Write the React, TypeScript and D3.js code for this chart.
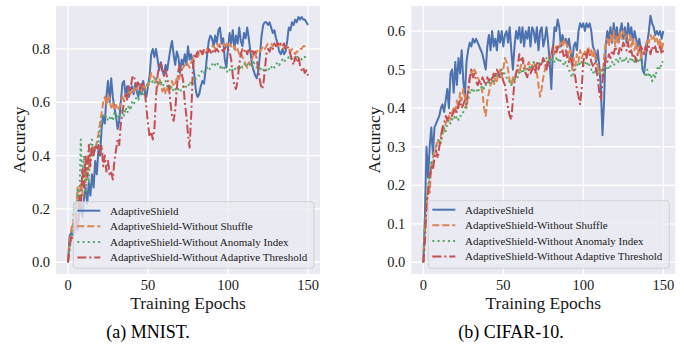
import React from "react";
import * as d3 from "d3";

const epochs: number[] = Array.from({ length: 151 }, (_, i) => i);

const seriesNames = [
  "AdaptiveShield",
  "AdaptiveShield-Without Shuffle",
  "AdaptiveShield-Without Anomaly Index",
  "AdaptiveShield-Without Adaptive Threshold",
];

const mnistFull = [
  0.00,0.10,0.11,0.10,0.13,0.15,0.12,0.18,0.22,0.17,0.24,0.28,0.22,0.30,0.25,0.33,0.28,0.38,0.33,0.42,
  0.40,0.50,0.55,0.52,0.62,0.68,0.60,0.69,0.62,0.58,0.55,0.50,0.53,0.60,0.67,0.68,0.63,0.66,0.62,0.65,
  0.66,0.63,0.67,0.64,0.62,0.66,0.63,0.68,0.64,0.62,0.66,0.70,0.78,0.80,0.77,0.80,0.76,0.72,0.75,0.72,
  0.70,0.74,0.72,0.76,0.80,0.83,0.78,0.74,0.79,0.77,0.71,0.76,0.74,0.78,0.74,0.81,0.76,0.78,0.75,0.70,
  0.64,0.62,0.63,0.66,0.68,0.67,0.72,0.78,0.83,0.85,0.84,0.81,0.85,0.82,0.87,0.88,0.82,0.84,0.76,0.73,
  0.80,0.86,0.82,0.87,0.80,0.85,0.82,0.88,0.83,0.81,0.86,0.84,0.88,0.84,0.79,0.74,0.72,0.70,0.69,0.72,
  0.78,0.85,0.89,0.90,0.90,0.89,0.90,0.88,0.86,0.87,0.84,0.82,0.79,0.78,0.80,0.78,0.79,0.83,0.88,0.87,
  0.90,0.89,0.91,0.90,0.92,0.91,0.92,0.91,0.91,0.90,0.89,
];
const mnistNoShuffle = [
  0.00,0.08,0.12,0.15,0.12,0.20,0.28,0.22,0.30,0.25,0.35,0.30,0.38,0.35,0.42,0.40,0.43,0.42,0.45,0.48,
  0.52,0.56,0.60,0.62,0.59,0.63,0.61,0.58,0.60,0.57,0.59,0.57,0.58,0.60,0.62,0.61,0.63,0.62,0.64,0.63,
  0.65,0.64,0.66,0.65,0.67,0.66,0.64,0.66,0.65,0.67,0.66,0.68,0.71,0.70,0.69,0.68,0.66,0.69,0.67,0.64,
  0.66,0.63,0.65,0.67,0.65,0.68,0.66,0.67,0.69,0.68,0.70,0.72,0.73,0.74,0.75,0.74,0.73,0.75,0.76,0.77,
  0.78,0.77,0.78,0.79,0.78,0.79,0.80,0.80,0.79,0.80,0.81,0.81,0.80,0.82,0.81,0.82,0.82,0.82,0.81,0.82,
  0.81,0.82,0.81,0.80,0.81,0.79,0.80,0.78,0.79,0.77,0.76,0.74,0.73,0.75,0.74,0.76,0.78,0.77,0.79,0.80,
  0.79,0.80,0.81,0.80,0.81,0.82,0.82,0.82,0.81,0.82,0.82,0.81,0.82,0.81,0.81,0.80,0.81,0.80,0.80,0.79,
  0.80,0.79,0.78,0.79,0.79,0.80,0.80,0.81,0.81,0.81,0.81,
];
const mnistNoAnomaly = [
  0.00,0.05,0.10,0.12,0.22,0.15,0.28,0.20,0.46,0.30,0.40,0.25,0.36,0.30,0.44,0.46,0.40,0.43,0.44,0.45,
  0.50,0.53,0.55,0.54,0.55,0.53,0.54,0.55,0.53,0.56,0.54,0.55,0.54,0.56,0.57,0.55,0.58,0.56,0.59,0.57,
  0.60,0.59,0.61,0.62,0.61,0.63,0.64,0.63,0.65,0.66,0.67,0.68,0.67,0.68,0.67,0.69,0.68,0.67,0.68,0.66,
  0.67,0.68,0.66,0.67,0.65,0.66,0.64,0.65,0.64,0.65,0.64,0.65,0.66,0.65,0.66,0.67,0.66,0.68,0.67,0.68,
  0.69,0.70,0.70,0.71,0.72,0.71,0.72,0.73,0.72,0.73,0.74,0.75,0.74,0.75,0.74,0.73,0.74,0.72,0.73,0.72,
  0.71,0.72,0.73,0.72,0.73,0.72,0.73,0.72,0.74,0.73,0.74,0.75,0.74,0.75,0.74,0.73,0.75,0.74,0.73,0.74,
  0.72,0.73,0.72,0.73,0.72,0.73,0.72,0.73,0.74,0.73,0.74,0.75,0.74,0.75,0.76,0.75,0.76,0.76,0.77,0.76,
  0.77,0.77,0.76,0.77,0.77,0.77,0.76,0.77,0.77,0.77,0.77,
];
const mnistNoThreshold = [
  0.00,0.05,0.10,0.09,0.11,0.18,0.13,0.25,0.20,0.35,0.28,0.40,0.32,0.44,0.36,0.43,0.40,0.44,0.42,0.44,
  0.40,0.44,0.36,0.40,0.34,0.38,0.33,0.34,0.31,0.38,0.42,0.46,0.44,0.52,0.56,0.60,0.63,0.61,0.66,0.64,
  0.69,0.70,0.68,0.66,0.68,0.65,0.67,0.66,0.64,0.58,0.52,0.47,0.49,0.46,0.50,0.62,0.70,0.74,0.75,0.72,
  0.70,0.72,0.69,0.66,0.60,0.55,0.53,0.57,0.65,0.72,0.74,0.71,0.68,0.60,0.55,0.48,0.43,0.55,0.72,0.78,
  0.77,0.79,0.78,0.80,0.78,0.80,0.79,0.78,0.80,0.79,0.78,0.80,0.79,0.80,0.79,0.81,0.80,0.79,0.80,0.81,
  0.80,0.79,0.76,0.70,0.66,0.65,0.68,0.74,0.78,0.80,0.79,0.80,0.78,0.80,0.79,0.80,0.78,0.79,0.76,0.72,
  0.68,0.65,0.66,0.72,0.78,0.80,0.79,0.81,0.80,0.82,0.81,0.82,0.81,0.82,0.81,0.82,0.80,0.81,0.80,0.78,
  0.76,0.74,0.77,0.75,0.77,0.74,0.72,0.73,0.71,0.72,0.70,
];

const cifarFull = [
  0.00,0.12,0.30,0.22,0.30,0.35,0.28,0.35,0.36,0.37,0.38,0.40,0.41,0.39,0.42,0.45,0.40,0.49,0.50,0.44,
  0.52,0.46,0.53,0.49,0.55,0.47,0.43,0.52,0.55,0.57,0.56,0.58,0.57,0.58,0.57,0.56,0.55,0.54,0.52,0.50,
  0.56,0.59,0.55,0.60,0.56,0.58,0.55,0.60,0.57,0.60,0.56,0.59,0.60,0.57,0.61,0.55,0.50,0.56,0.60,0.58,
  0.61,0.57,0.61,0.56,0.60,0.58,0.61,0.56,0.61,0.60,0.57,0.61,0.55,0.60,0.61,0.56,0.58,0.61,0.57,0.52,
  0.45,0.55,0.61,0.60,0.63,0.61,0.56,0.59,0.57,0.58,0.56,0.58,0.55,0.51,0.56,0.57,0.55,0.60,0.62,0.61,
  0.62,0.60,0.62,0.61,0.62,0.60,0.56,0.55,0.52,0.55,0.51,0.45,0.33,0.42,0.56,0.60,0.58,0.61,0.57,0.62,
  0.58,0.61,0.57,0.60,0.62,0.58,0.61,0.57,0.62,0.59,0.61,0.57,0.60,0.58,0.56,0.58,0.55,0.50,0.49,0.53,
  0.57,0.60,0.64,0.62,0.61,0.59,0.60,0.59,0.60,0.58,0.60,
];
const cifarNoShuffle = [
  0.00,0.08,0.14,0.20,0.18,0.25,0.27,0.29,0.30,0.32,0.31,0.33,0.35,0.34,0.36,0.37,0.38,0.37,0.39,0.40,
  0.39,0.42,0.40,0.44,0.42,0.45,0.43,0.40,0.44,0.47,0.50,0.49,0.50,0.49,0.48,0.47,0.46,0.44,0.40,0.38,
  0.42,0.44,0.46,0.47,0.46,0.48,0.47,0.49,0.50,0.48,0.50,0.53,0.52,0.50,0.47,0.46,0.48,0.47,0.49,0.50,
  0.49,0.51,0.53,0.52,0.50,0.51,0.52,0.50,0.51,0.52,0.51,0.49,0.46,0.43,0.45,0.48,0.50,0.52,0.51,0.53,
  0.54,0.55,0.54,0.56,0.55,0.56,0.57,0.56,0.58,0.57,0.56,0.52,0.55,0.50,0.53,0.51,0.54,0.52,0.55,0.53,
  0.54,0.55,0.53,0.56,0.54,0.55,0.53,0.55,0.52,0.51,0.49,0.50,0.48,0.53,0.57,0.58,0.56,0.59,0.57,0.60,
  0.56,0.59,0.57,0.60,0.58,0.60,0.58,0.59,0.57,0.59,0.56,0.58,0.55,0.57,0.54,0.56,0.53,0.55,0.54,0.56,
  0.58,0.57,0.59,0.58,0.59,0.57,0.58,0.56,0.58,0.55,0.57,
];
const cifarNoAnomaly = [
  0.00,0.10,0.15,0.20,0.22,0.26,0.25,0.28,0.30,0.31,0.32,0.31,0.33,0.35,0.34,0.36,0.37,0.36,0.37,0.38,
  0.37,0.38,0.37,0.38,0.38,0.39,0.40,0.41,0.42,0.44,0.45,0.44,0.45,0.45,0.44,0.45,0.45,0.46,0.45,0.46,
  0.47,0.46,0.47,0.48,0.47,0.48,0.49,0.48,0.49,0.50,0.49,0.49,0.48,0.47,0.47,0.46,0.47,0.48,0.49,0.48,
  0.49,0.50,0.49,0.50,0.49,0.50,0.51,0.50,0.51,0.52,0.51,0.52,0.51,0.52,0.52,0.53,0.52,0.53,0.52,0.53,
  0.52,0.53,0.52,0.53,0.52,0.53,0.52,0.52,0.51,0.52,0.51,0.50,0.49,0.48,0.49,0.50,0.51,0.52,0.51,0.52,
  0.51,0.52,0.51,0.52,0.51,0.50,0.49,0.50,0.49,0.50,0.49,0.49,0.50,0.49,0.50,0.51,0.50,0.51,0.52,0.51,
  0.52,0.53,0.52,0.53,0.52,0.53,0.52,0.53,0.52,0.53,0.52,0.53,0.52,0.53,0.52,0.53,0.52,0.51,0.50,0.48,
  0.50,0.48,0.49,0.47,0.49,0.48,0.50,0.51,0.50,0.52,0.52,
];
const cifarNoThreshold = [
  0.00,0.05,0.15,0.18,0.22,0.25,0.24,0.27,0.29,0.27,0.30,0.32,0.35,0.36,0.38,0.37,0.38,0.39,0.38,0.39,
  0.40,0.39,0.41,0.42,0.40,0.41,0.42,0.41,0.45,0.48,0.50,0.48,0.49,0.47,0.46,0.47,0.46,0.48,0.47,0.46,
  0.48,0.47,0.48,0.47,0.49,0.48,0.50,0.49,0.48,0.49,0.47,0.46,0.43,0.40,0.38,0.37,0.42,0.47,0.49,0.51,
  0.54,0.52,0.53,0.50,0.49,0.48,0.50,0.49,0.50,0.51,0.49,0.52,0.50,0.52,0.51,0.53,0.52,0.50,0.52,0.53,
  0.54,0.56,0.55,0.54,0.56,0.55,0.54,0.55,0.53,0.55,0.53,0.52,0.53,0.52,0.50,0.48,0.45,0.43,0.41,0.45,
  0.52,0.54,0.53,0.55,0.54,0.52,0.51,0.52,0.50,0.48,0.44,0.42,0.47,0.51,0.53,0.52,0.54,0.53,0.55,0.54,
  0.56,0.55,0.54,0.56,0.55,0.57,0.56,0.55,0.57,0.54,0.55,0.53,0.54,0.52,0.54,0.55,0.56,0.55,0.54,0.56,
  0.55,0.56,0.54,0.56,0.55,0.56,0.54,0.55,0.56,0.54,0.55,
];

const xTicks = [0, 50, 100, 150];
const mnistYTicks = [0, 0.2, 0.4, 0.6, 0.8];
const cifarYTicks = [0, 0.1, 0.2, 0.3, 0.4, 0.5, 0.6];

const colors = ["#4C72B0", "#DD8452", "#55A868", "#C44E52"];
const dashes = ["", "7,3", "2,3.2", "9,3,2,3"];
const FONT = "'Liberation Serif', 'Times New Roman', serif";
const TEXT = "#1a1a1a";

type PanelProps = {
  left: number;
  right: number;
  yDomain: [number, number];
  yTicks: number[];
  series: number[][];
  caption: string;
  captionX: number;
  yLabelX: number;
  legendX: number;
  legendY: number;
  legendW: number;
  legendH: number;
};

function Panel(p: PanelProps) {
  const top = 6;
  const bottom = 274;
  const x = d3.scaleLinear().domain([-7.5, 157.5]).range([p.left, p.right]);
  const y = d3.scaleLinear().domain(p.yDomain).range([bottom, top]);
  const line = d3
    .line<number>()
    .x((_, i) => x(epochs[i]))
    .y((d) => y(d));
  const cx = (p.left + p.right) / 2;
  const rows = [0, 1, 2, 3].map((i) => p.legendY + 9 + i * 15.6);
  return (
    <g>
      <rect x={p.left} y={top} width={p.right - p.left} height={bottom - top} fill="#EAEAF2" />
      {xTicks.map((t) => (
        <line key={"gx" + t} x1={x(t)} x2={x(t)} y1={top} y2={bottom} stroke="#fff" strokeWidth={1.3} />
      ))}
      {p.yTicks.map((t) => (
        <line key={"gy" + t} x1={p.left} x2={p.right} y1={y(t)} y2={y(t)} stroke="#fff" strokeWidth={1.3} />
      ))}
      {p.series.map((s, i) => (
        <path
          key={"s" + i}
          d={line(s) || ""}
          fill="none"
          stroke={colors[i]}
          strokeWidth={2}
          strokeDasharray={dashes[i] || undefined}
          strokeLinejoin="round"
        />
      ))}
      {xTicks.map((t) => (
        <text key={"tx" + t} x={x(t)} y={289.5} textAnchor="middle" fontFamily={FONT} fontSize={14.5} fill={TEXT}>
          {t}
        </text>
      ))}
      {p.yTicks.map((t) => (
        <text
          key={"ty" + t}
          x={p.left - 6}
          y={y(t) + 5}
          textAnchor="end"
          fontFamily={FONT}
          fontSize={14.5}
          fill={TEXT}
        >
          {d3.format(".1f")(t)}
        </text>
      ))}
      <text x={cx} y={309} textAnchor="middle" fontFamily={FONT} fontSize={17.5} fill={TEXT}>
        Training Epochs
      </text>
      <text
        transform={`translate(${p.yLabelX},${(top + bottom) / 2}) rotate(-90)`}
        textAnchor="middle"
        fontFamily={FONT}
        fontSize={17.5}
        fill={TEXT}
      >
        Accuracy
      </text>
      <text x={p.captionX} y={338} textAnchor="middle" fontFamily={FONT} fontSize={18} fill="#000">
        {p.caption}
      </text>
      <rect
        x={p.legendX}
        y={p.legendY}
        width={p.legendW}
        height={p.legendH}
        rx={3}
        fill="#EAEAF2"
        fillOpacity={0.8}
        stroke="#cccccc"
        strokeWidth={0.8}
      />
      {seriesNames.map((n, i) => (
        <g key={"lg" + i}>
          <line
            x1={p.legendX + 4}
            x2={p.legendX + 27}
            y1={rows[i]}
            y2={rows[i]}
            stroke={colors[i]}
            strokeWidth={2}
            strokeDasharray={dashes[i] || undefined}
          />
          <text x={p.legendX + 36.7} y={rows[i] + 3.8} fontFamily={FONT} fontSize={11} fill={TEXT}>
            {n}
          </text>
        </g>
      ))}
    </g>
  );
}

export default function App() {
  return (
    <svg width={684} height={351} style={{ position: "absolute", left: 0, top: 0, background: "#fff" }}>
      <Panel
        left={56}
        right={320}
        yDomain={[-0.044, 0.961]}
        yTicks={mnistYTicks}
        series={[mnistFull, mnistNoShuffle, mnistNoAnomaly, mnistNoThreshold]}
        caption="(a) MNIST."
        captionX={148}
        yLabelX={25}
        legendX={73.3}
        legendY={201.7}
        legendW={240.7}
        legendH={66.6}
      />
      <Panel
        left={411.3}
        right={675.3}
        yDomain={[-0.03, 0.665]}
        yTicks={cifarYTicks}
        series={[cifarFull, cifarNoShuffle, cifarNoAnomaly, cifarNoThreshold]}
        caption="(b) CIFAR-10."
        captionX={511}
        yLabelX={379.5}
        legendX={428.3}
        legendY={200.7}
        legendW={241}
        legendH={67.6}
      />
    </svg>
  );
}
